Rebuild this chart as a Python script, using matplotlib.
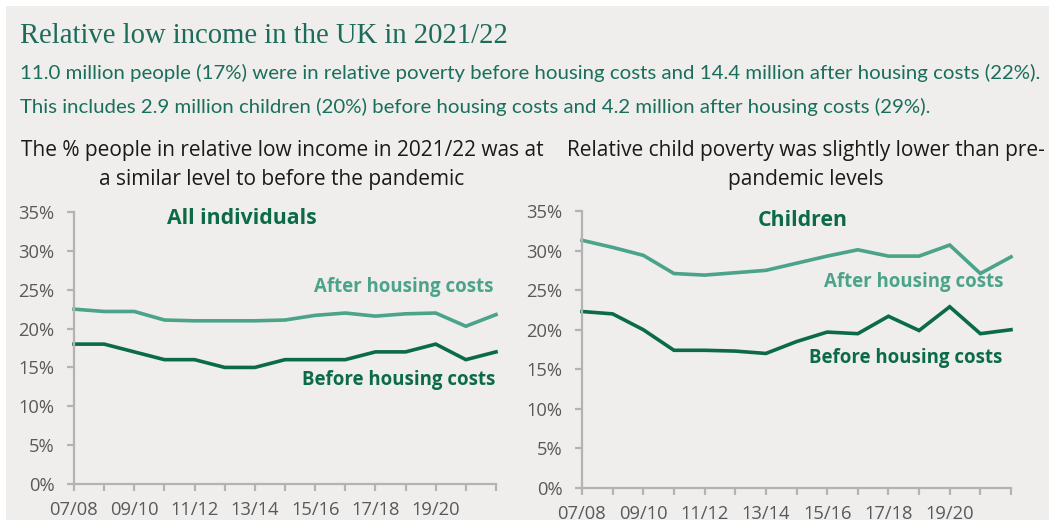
import matplotlib.pyplot as plt
import numpy as np

W, H = 1049, 520

years = ['07/08', '08/09', '09/10', '10/11', '11/12', '12/13', '13/14', '14/15',
         '15/16', '16/17', '17/18', '18/19', '19/20', '20/21', '21/22']
# labels shown on the axis (every other year, last one not shown)
shown = ['07/08', '09/10', '11/12', '13/14', '15/16', '17/18', '19/20']

all_ahc = [22.5, 22.2, 22.2, 21.1, 21.0, 21.0, 21.0, 21.1, 21.7, 22.0, 21.6, 21.9, 22.0, 20.3, 21.8]
all_bhc = [18.0, 18.0, 17.0, 16.0, 16.0, 15.0, 15.0, 16.0, 16.0, 16.0, 17.0, 17.0, 18.0, 16.0, 17.0]
child_ahc = [31.3, 30.4, 29.4, 27.1, 26.9, 27.2, 27.5, 28.4, 29.3, 30.1, 29.3, 29.3, 30.7, 27.1, 29.2]
child_bhc = [22.3, 22.0, 20.0, 17.4, 17.4, 17.3, 17.0, 18.5, 19.7, 19.5, 21.7, 19.9, 22.9, 19.5, 20.0]

bg = '#efeeec'
green_dark = '#0b6b47'
green_light = '#4ba38a'
title_green = '#1d6b5a'
text_green = '#1a6e5c'
grey = '#595959'
spine = '#b3b3b3'

fig = plt.figure(figsize=(W / 100, H / 100), dpi=100, facecolor='white')
# grey panel with a thin white border on top and left
fig.patches.append(plt.Rectangle((6 / W, 0), 1, 1 - 6 / H, transform=fig.transFigure,
                                 facecolor=bg, edgecolor='none', zorder=-10))


def px(x, y):
    return x / W, 1 - y / H


fig.text(*px(20, 43), 'Relative low income in the UK in 2021/22', family='Liberation Serif',
         fontsize=20.6, color=title_green, va='baseline', ha='left')
fig.text(*px(20, 73), '11.0 million people (17%) were in relative poverty before housing costs '
         'and 14.4 million after housing costs (22%).', family='Lato', fontsize=14.7,
         color=text_green, va='center', ha='left')
fig.text(*px(20, 107), 'This includes 2.9 million children (20%) before housing costs '
         'and 4.2 million after housing costs (29%).', family='Lato', fontsize=14.7,
         color=text_green, va='center', ha='left')

fig.text(*px(282, 165), 'The % people in relative low income in 2021/22 was at\n'
         'a similar level to before the pandemic', family='Open Sans', fontsize=15,
         color='#1a1a1a', ha='center', va='center', linespacing=1.5)
fig.text(*px(806, 165), 'Relative child poverty was slightly lower than pre-\n'
         'pandemic levels', family='Open Sans', fontsize=15,
         color='#1a1a1a', ha='center', va='center', linespacing=1.5)


def panel(rect, ahc, bhc, label, label_xy, ahc_xy, bhc_xy):
    x0, y0, x1, y1 = rect
    ax = fig.add_axes([x0 / W, 1 - y1 / H, (x1 - x0) / W, (y1 - y0) / H])
    ax.set_facecolor('none')
    x = np.arange(len(years))
    ax.plot(x, ahc, color=green_light, lw=2.6, clip_on=False, solid_joinstyle='miter')
    ax.plot(x, bhc, color=green_dark, lw=2.6, clip_on=False, solid_joinstyle='miter')
    ax.set_xlim(0, len(years) - 1)
    ax.set_ylim(0, 35)
    ax.set_yticks(range(0, 36, 5))
    ax.set_yticklabels([f'{v}%' for v in range(0, 36, 5)])
    ax.set_xticks(x)
    ax.set_xticklabels([y if y in shown else '' for y in years])
    for s in ['top', 'right']:
        ax.spines[s].set_visible(False)
    for s in ['left', 'bottom']:
        ax.spines[s].set_color(spine)
        ax.spines[s].set_linewidth(1.6)
    ax.tick_params(axis='both', color=spine, width=1.6, length=5, labelcolor=grey,
                   labelsize=13.2)
    ax.tick_params(axis='y', pad=9)
    ax.tick_params(axis='x', pad=7)
    for t in ax.get_xticklabels() + ax.get_yticklabels():
        t.set_family('Open Sans')

    fig.text(*px(*label_xy), label, family='Open Sans', weight='bold', fontsize=15.3,
             color=green_dark, ha='center', va='center')
    fig.text(*px(*ahc_xy), 'After housing costs', family='Open Sans', weight='bold',
             fontsize=13.4, color=green_light, ha='right', va='center')
    fig.text(*px(*bhc_xy), 'Before housing costs', family='Open Sans', weight='bold',
             fontsize=13.4, color=green_dark, ha='right', va='center')
    return ax


panel((74, 212, 496, 484), all_ahc, all_bhc, 'All individuals',
      (242, 218), (494, 287), (495, 380))
panel((582, 211, 1011, 488), child_ahc, child_bhc, 'Children',
      (803, 220), (1003, 282), (1002, 358))

fig.savefig('out.png', dpi=100, facecolor='white')
